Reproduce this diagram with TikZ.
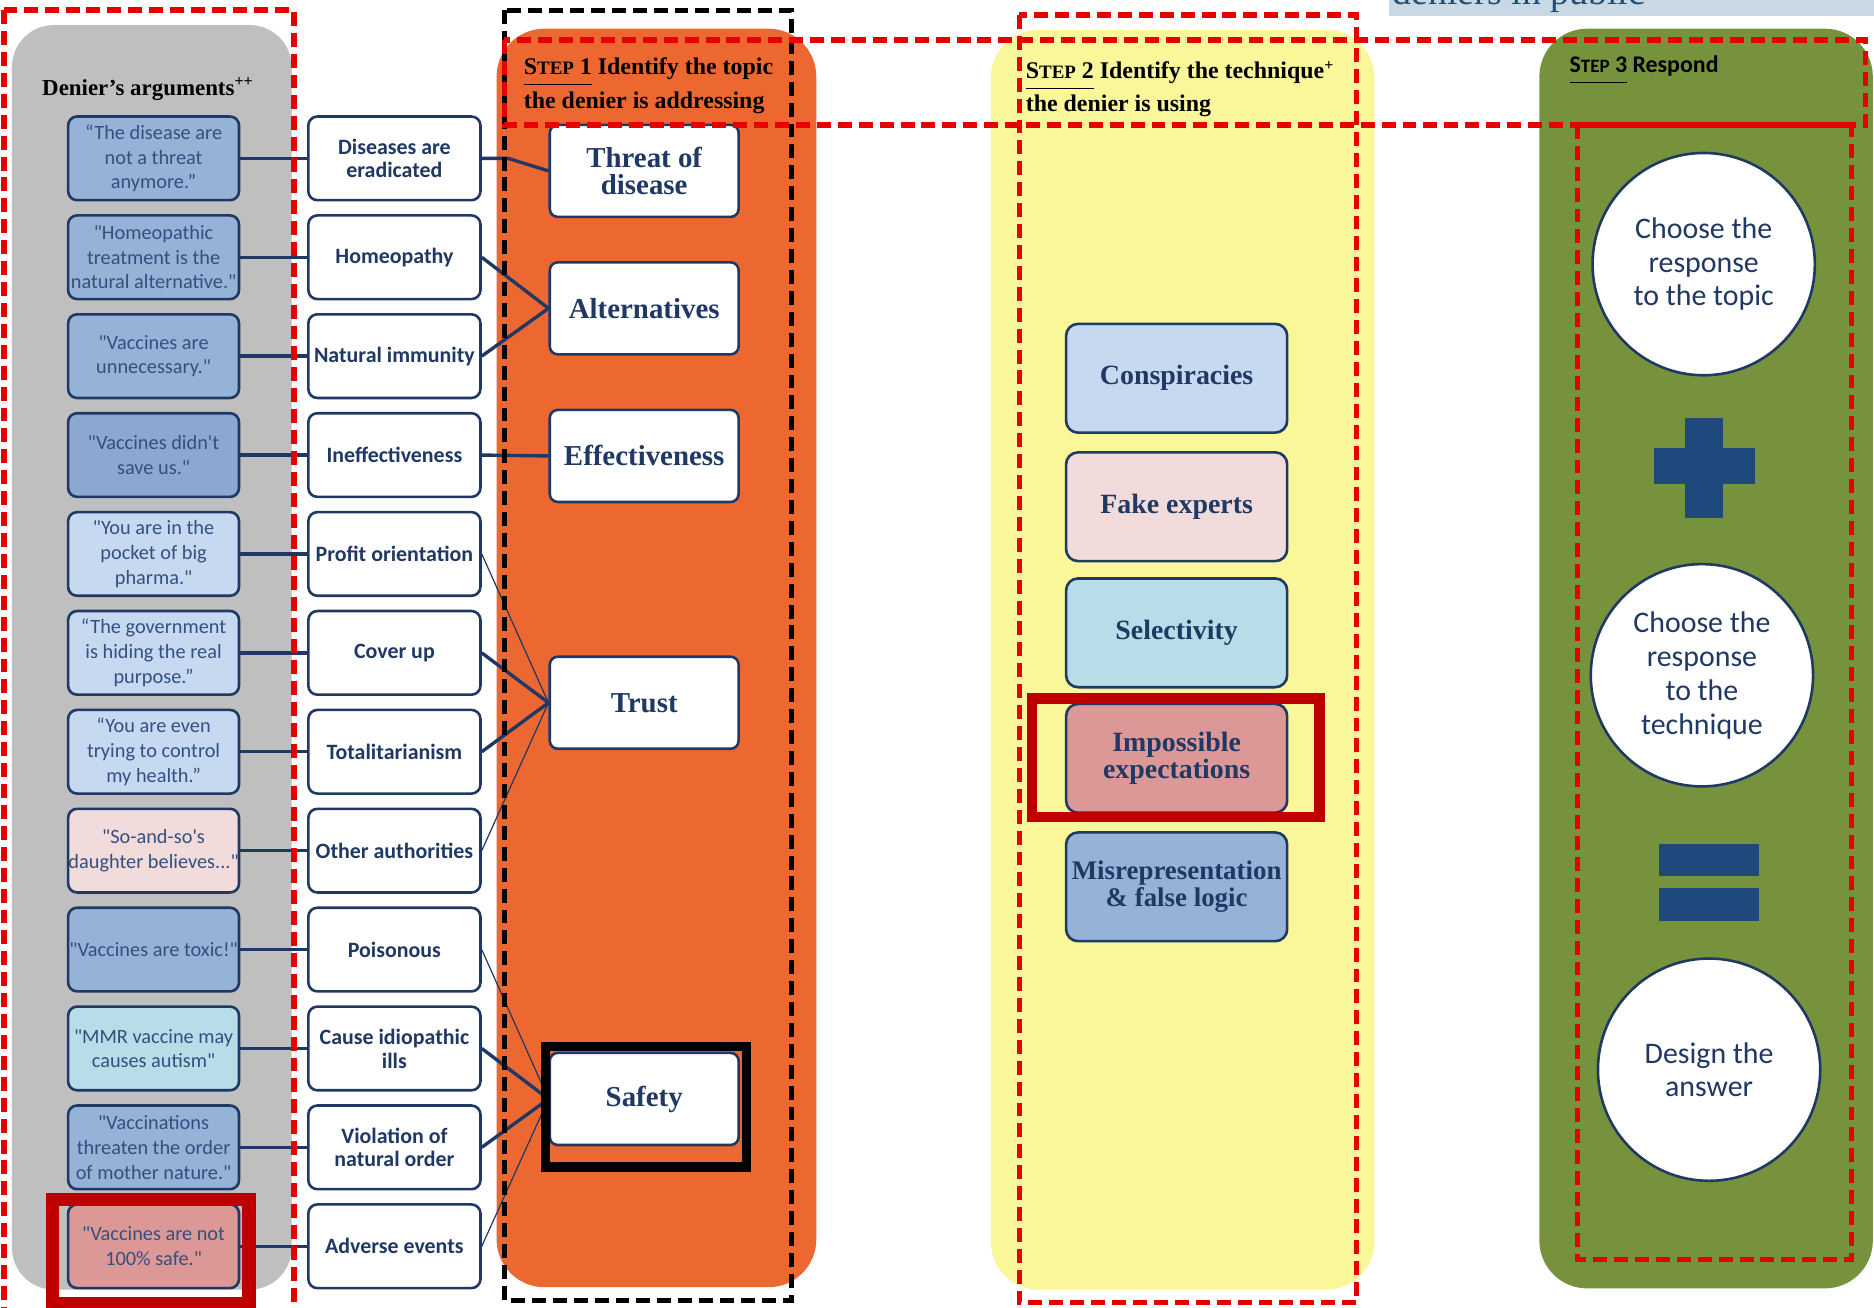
\documentclass[tikz,border=0pt]{standalone}
\usepackage{fontspec}
\setmainfont{Liberation Serif}
\newfontfamily\calib{Carlito}
\definecolor{navy}{RGB}{31,56,100}
\definecolor{argtext}{RGB}{50,80,128}
\definecolor{panelgray}{RGB}{191,191,191}
\definecolor{panelorange}{RGB}{237,104,49}
\definecolor{panelyellow}{RGB}{250,247,155}
\definecolor{panelgreen}{RGB}{119,146,60}
\definecolor{dashred}{RGB}{230,0,0}
\definecolor{framered}{RGB}{192,0,0}
\definecolor{mblue}{RGB}{149,179,215}
\definecolor{mbluedark}{RGB}{138,168,208}
\definecolor{lblue}{RGB}{198,217,241}
\definecolor{lpink}{RGB}{242,220,219}
\definecolor{lcyan}{RGB}{183,222,232}
\definecolor{salmon}{RGB}{220,152,150}
\definecolor{trbg}{RGB}{200,216,228}
\definecolor{trtext}{RGB}{31,78,121}
\definecolor{signblue}{RGB}{31,73,125}
\begin{document}
\begin{tikzpicture}[x=0.6pt,y=-0.6pt,
  argbox/.style={draw=navy, line width=1.3pt, rounded corners=4.5pt, minimum width=85.8pt, minimum height=42pt, inner sep=0pt, align=center, font=\calib\fontsize{10.2}{12.4}\selectfont, text=argtext},
  midbox/.style={argbox, fill=white, minimum width=86.4pt, font=\calib\bfseries\fontsize{11}{12}\selectfont, text=navy},
  topicbox/.style={draw=navy, fill=white, line width=1.3pt, rounded corners=4pt, minimum width=94.8pt, minimum height=46.2pt, inner sep=0pt, align=center, font=\bfseries\fontsize{14.5}{13.5}\selectfont, text=navy},
  techbox/.style={draw=navy, line width=1.3pt, rounded corners=6pt, minimum width=111pt, minimum height=54.6pt, inner sep=0pt, align=center, font=\bfseries\fontsize{14}{14}\selectfont, text=navy},
  circ/.style={circle, draw=navy, fill=white, line width=1.3pt, minimum size=111.6pt, inner sep=0pt, align=center, font=\calib\fontsize{15}{17}\selectfont, text=navy},
  conn/.style={draw=navy, line width=1.7pt},
  thinconn/.style={draw=navy, line width=0.6pt},
  reddash/.style={draw=dashred, line width=2.7pt, dash pattern=on 7pt off 3.5pt},
  blackdash/.style={draw=black, line width=2.4pt, dash pattern=on 7pt off 3.5pt},
  heading/.style={anchor=base west, inner sep=0pt, font=\bfseries\fontsize{12}{12}\selectfont, text=black}
]
\useasboundingbox (0,0) rectangle (1568,1094);
\fill[white] (0,0) rectangle (1568,1094);

% top-right title, cut off by the top edge as in the reference
\fill[trbg] (1162,-5) rectangle (1580,13);
\node[anchor=base west, inner sep=0pt, font=\fontsize{19}{19}\selectfont, text=trtext] (tr) at (1165,3.5) {deniers in public};

% panels
\fill[panelgray, rounded corners=21pt] (10,21) rectangle (244,1079);
\fill[panelorange, rounded corners=24pt] (415.5,24) rectangle (683,1077);
\fill[panelyellow, rounded corners=24pt] (829,25) rectangle (1150,1079);
\fill[panelgreen, rounded corners=24pt] (1288,24) rectangle (1567,1078);

% headings
\node[heading, font=\bfseries\fontsize{11.5}{12}\selectfont] (hd) at (35,80) {Denier's arguments\textsuperscript{++}};
\node[heading] (s1a) at (438,62) {\underline{\strut S{\fontsize{9.5}{9.5}\selectfont TEP}~1} Identify the topic};
\node[heading] (s1b) at (438,91) {the denier is addressing};
\node[heading] (s2a) at (858,66) {\underline{\strut S{\fontsize{9.5}{9.5}\selectfont TEP}~2} Identify the technique\textsuperscript{+}};
\node[heading] (s2b) at (858,93) {the denier is using};
\node[heading, font=\calib\bfseries\fontsize{12}{12}\selectfont] (s3) at (1313,61) {\underline{\strut S{\fontsize{9.5}{9.5}\selectfont TEP}~3} Respond};

% argument boxes
\node[argbox, fill=mblue] (a1) at (128.5,132.5) {\textquotedblleft The disease are\\not a threat\\anymore.\textquotedblright};
\node[argbox, fill=mblue] (a2) at (128.5,215.25) {"Homeopathic\\treatment is the\\natural alternative."};
\node[argbox, fill=mblue] (a3) at (128.5,298) {"Vaccines are\\unnecessary."};
\node[argbox, fill=mbluedark] (a4) at (128.5,380.75) {"Vaccines didn't\\save us."};
\node[argbox, fill=lblue] (a5) at (128.5,463.5) {"You are in the\\pocket of big\\pharma."};
\node[argbox, fill=lblue] (a6) at (128.5,546.25) {\textquotedblleft The government\\is hiding the real\\purpose.\textquotedblright};
\node[argbox, fill=lblue] (a7) at (128.5,629) {\textquotedblleft You are even\\trying to control\\my health.\textquotedblright};
\node[argbox, fill=lpink] (a8) at (128.5,711.75) {"So-and-so's\\daughter believes..."};
\node[argbox, fill=mblue] (a9) at (128.5,794.5) {"Vaccines are toxic!"};
\node[argbox, fill=lcyan] (a10) at (128.5,877.25) {"MMR vaccine may\\causes autism"};
\node[argbox, fill=mblue] (a11) at (128.5,960) {"Vaccinations\\threaten the order\\of mother nature."};
\node[argbox, fill=salmon] (a12) at (128.5,1042.75) {"Vaccines are not\\100\% safe."};

% middle boxes
\node[midbox] (m1) at (330,132.5) {Diseases are\\eradicated};
\node[midbox] (m2) at (330,215.25) {Homeopathy};
\node[midbox] (m3) at (330,298) {Natural immunity};
\node[midbox] (m4) at (330,380.75) {Ineffectiveness};
\node[midbox] (m5) at (330,463.5) {Profit orientation};
\node[midbox] (m6) at (330,546.25) {Cover up};
\node[midbox] (m7) at (330,629) {Totalitarianism};
\node[midbox] (m8) at (330,711.75) {Other authorities};
\node[midbox] (m9) at (330,794.5) {Poisonous};
\node[midbox] (m10) at (330,877.25) {Cause idiopathic\\ills};
\node[midbox] (m11) at (330,960) {Violation of\\natural order};
\node[midbox] (m12) at (330,1042.75) {Adverse events};

% topic boxes
\node[topicbox] (t1) at (539,143) {Threat of\\disease};
\node[topicbox] (t2) at (539,258) {Alternatives};
\node[topicbox] (t3) at (539,381.5) {Effectiveness};
\node[topicbox] (t4) at (539,588) {Trust};
\node[topicbox] (t5) at (539,919.5) {Safety};

% connectors
\foreach \i in {1,...,12}{ \draw[conn] (a\i.east) -- (m\i.west); }
\draw[conn] (m1.east) -- ++(22,0) -- (t1.west);
\draw[conn] (m2.east) -- (t2.west);
\draw[conn] (m3.east) -- (t2.west);
\draw[conn] (m4.east) -- (t3.west);
\draw[thinconn] (m5.east) -- (t4.west);
\draw[conn] (m6.east) -- (t4.west);
\draw[conn] (m7.east) -- (t4.west);
\draw[thinconn] (m8.east) -- (t4.west);
\draw[thinconn] (m9.east) -- (t5.west);
\draw[conn] (m10.east) -- (t5.west);
\draw[conn] (m11.east) -- (t5.west);
\draw[thinconn] (m12.east) -- (t5.west);

% technique boxes
\node[techbox, fill=lblue] (k1) at (984.5,316.5) {Conspiracies};
\node[techbox, fill=lpink] (k2) at (984.5,424) {Fake experts};
\node[techbox, fill=lcyan] (k3) at (984.5,529.5) {Selectivity};
\node[techbox, fill=salmon] (k4) at (984.5,634.5) {Impossible\\expectations};
\node[techbox, fill=mblue, font=\bfseries\fontsize{13.5}{13.5}\selectfont] (k5) at (984.5,742) {Misrepresentation\\\& false logic};

% respond circles and signs
\node[circ] (c1) at (1425.5,221) {Choose the\\response\\to the topic};
\node[circ] (c2) at (1424,565) {Choose the\\response\\to the\\technique};
\node[circ] (c3) at (1430,895) {Design the\\answer};
\fill[signblue] (1410,350) rectangle (1442,433);
\fill[signblue] (1384,375) rectangle (1468,405);
\fill[signblue] (1388,706) rectangle (1472,733);
\fill[signblue] (1388,743) rectangle (1472,771);

% dashed frames
\draw[reddash] (3.5,8.5) rectangle (246,1110);
\draw[blackdash] (422,8.5) rectangle (662,1088);
\draw[reddash] (853,12.5) rectangle (1135,1090);
\draw[reddash] (422,33.5) rectangle (1561,104.5);
\draw[reddash] (1320,104.5) rectangle (1549,1054);

% thick highlight frames
\draw[black, line width=4.8pt] (456.5,875.5) rectangle (624.5,976.5);
\draw[framered, line width=5.4pt] (863.5,584.5) rectangle (1104,683.5);
\draw[framered, line width=6.6pt] (44,1003.5) rectangle (208.3,1091);
\end{tikzpicture}
\end{document}
